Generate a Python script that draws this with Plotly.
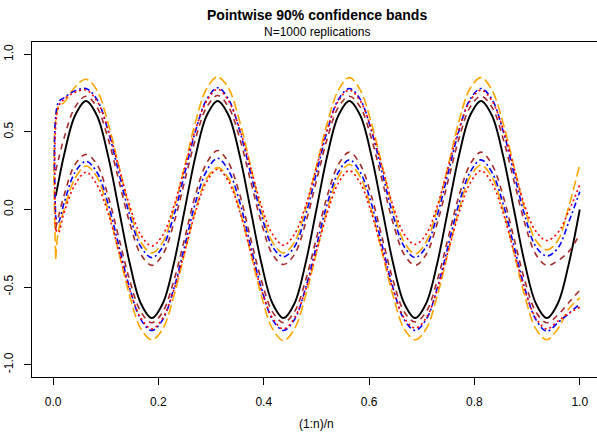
import plotly.graph_objects as go

# evaluation grid (1:n)/n
x = [0.005, 0.01,
     0.0208, 0.0417, 0.0625, 0.0833, 0.1042, 0.125, 0.1458, 0.1667, 0.1875, 0.2083, 0.2292, 0.25,
     0.2708, 0.2917, 0.3125, 0.3333, 0.3542, 0.375, 0.3958, 0.4167, 0.4375, 0.4583, 0.4792, 0.5,
     0.5208, 0.5417, 0.5625, 0.5833, 0.6042, 0.625, 0.6458, 0.6667, 0.6875, 0.7083, 0.7292, 0.75,
     0.7708, 0.7917, 0.8125, 0.8333, 0.8542, 0.875, 0.8958, 0.9167, 0.9375, 0.9583, 0.9792, 1.0]

true_curve = [0.088, 0.174,
    0.35, 0.606, 0.70, 0.606, 0.35, 0.0, -0.35, -0.606, -0.70, -0.606, -0.35, 0.0,
    0.35, 0.606, 0.70, 0.606, 0.35, 0.0, -0.35, -0.606, -0.70, -0.606, -0.35, 0.0,
    0.35, 0.606, 0.70, 0.606, 0.35, 0.0, -0.35, -0.606, -0.70, -0.606, -0.35, 0.0,
    0.35, 0.606, 0.70, 0.606, 0.35, 0.0, -0.35, -0.606, -0.70, -0.606, -0.35, 0.0]

orange_upper = [-0.30, 0.66,
    0.69, 0.79, 0.84, 0.77, 0.56, 0.28, 0.00, -0.21, -0.28, -0.21, 0.00, 0.28,
    0.57, 0.78, 0.855, 0.78, 0.57, 0.28, -0.01, -0.21, -0.28, -0.21, 0.00, 0.28,
    0.56, 0.77, 0.85, 0.77, 0.56, 0.28, 0.00, -0.21, -0.285, -0.21, 0.00, 0.28,
    0.57, 0.78, 0.85, 0.77, 0.56, 0.28, 0.00, -0.20, -0.26, -0.20, 0.02, 0.29]
orange_lower = [-0.32, -0.14,
    0.00, 0.20, 0.28, 0.21, 0.00, -0.28, -0.56, -0.77, -0.84, -0.77, -0.56, -0.28,
    0.00, 0.20, 0.27, 0.20, 0.00, -0.28, -0.56, -0.77, -0.845, -0.77, -0.56, -0.28,
    0.00, 0.21, 0.29, 0.21, 0.00, -0.28, -0.56, -0.77, -0.84, -0.77, -0.56, -0.28,
    0.00, 0.21, 0.285, 0.21, 0.00, -0.28, -0.56, -0.77, -0.84, -0.77, -0.64, -0.57]

blue_upper = [-0.05, 0.69,
    0.72, 0.765, 0.78, 0.71, 0.51, 0.235, -0.04, -0.24, -0.31, -0.24, -0.04, 0.235,
    0.51, 0.71, 0.785, 0.71, 0.51, 0.235, -0.04, -0.24, -0.305, -0.24, -0.04, 0.235,
    0.51, 0.71, 0.78, 0.71, 0.51, 0.235, -0.04, -0.24, -0.31, -0.24, -0.04, 0.235,
    0.51, 0.71, 0.78, 0.71, 0.51, 0.235, -0.04, -0.24, -0.30, -0.25, -0.08, 0.115]
blue_lower = [-0.05, -0.08,
    0.04, 0.24, 0.31, 0.24, 0.04, -0.235, -0.51, -0.71, -0.78, -0.71, -0.51, -0.235,
    0.05, 0.25, 0.33, 0.25, 0.05, -0.235, -0.51, -0.71, -0.78, -0.71, -0.51, -0.235,
    0.04, 0.24, 0.32, 0.24, 0.04, -0.235, -0.51, -0.71, -0.78, -0.71, -0.51, -0.235,
    0.04, 0.24, 0.32, 0.24, 0.04, -0.235, -0.51, -0.71, -0.785, -0.73, -0.67, -0.61]

red_upper = [-0.13, 0.66,
    0.71, 0.755, 0.77, 0.70, 0.52, 0.27, 0.02, -0.165, -0.235, -0.165, 0.02, 0.27,
    0.52, 0.70, 0.775, 0.70, 0.52, 0.27, 0.02, -0.16, -0.23, -0.16, 0.02, 0.27,
    0.52, 0.70, 0.77, 0.70, 0.52, 0.27, 0.02, -0.16, -0.225, -0.16, 0.02, 0.27,
    0.52, 0.70, 0.77, 0.70, 0.52, 0.27, 0.02, -0.14, -0.20, -0.15, -0.01, 0.16]
red_lower = [-0.13, -0.15,
    -0.02, 0.16, 0.24, 0.16, -0.02, -0.27, -0.52, -0.70, -0.77, -0.70, -0.52, -0.27,
    -0.01, 0.18, 0.26, 0.18, -0.01, -0.27, -0.52, -0.70, -0.77, -0.70, -0.52, -0.27,
    -0.02, 0.17, 0.25, 0.17, -0.02, -0.27, -0.52, -0.70, -0.765, -0.70, -0.52, -0.27,
    -0.02, 0.17, 0.25, 0.17, -0.02, -0.27, -0.52, -0.70, -0.77, -0.72, -0.67, -0.63]

brown_upper = [0.25, 0.32,
    0.46, 0.66, 0.73, 0.66, 0.46, 0.185, -0.09, -0.29, -0.36, -0.29, -0.09, 0.185,
    0.46, 0.66, 0.735, 0.66, 0.46, 0.185, -0.09, -0.29, -0.355, -0.29, -0.09, 0.185,
    0.46, 0.66, 0.73, 0.66, 0.46, 0.185, -0.09, -0.29, -0.36, -0.29, -0.09, 0.185,
    0.46, 0.66, 0.73, 0.66, 0.46, 0.185, -0.09, -0.29, -0.36, -0.33, -0.27, -0.16]
brown_lower = [-0.12, -0.05,
    0.09, 0.29, 0.355, 0.29, 0.09, -0.185, -0.46, -0.66, -0.73, -0.66, -0.46, -0.185,
    0.10, 0.30, 0.38, 0.30, 0.10, -0.185, -0.46, -0.66, -0.73, -0.66, -0.46, -0.185,
    0.09, 0.29, 0.37, 0.29, 0.09, -0.185, -0.46, -0.66, -0.725, -0.66, -0.46, -0.185,
    0.09, 0.29, 0.37, 0.29, 0.09, -0.185, -0.46, -0.66, -0.73, -0.68, -0.60, -0.52]

x_ticks = [0.0, 0.2, 0.4, 0.6, 0.8, 1.0]
x_tick_labels = ["0.0", "0.2", "0.4", "0.6", "0.8", "1.0"]
y_ticks = [-1.0, -0.5, 0.0, 0.5, 1.0]
y_tick_labels = ["-1.0", "-0.5", "0.0", "0.5", "1.0"]

FONT = "Liberation Sans, Arial, Helvetica, sans-serif"

fig = go.Figure()

def add(y, color, dash, width=1.6):
    fig.add_trace(go.Scatter(x=x, y=y, mode="lines", showlegend=False, hoverinfo="skip",
                             line=dict(color=color, width=width, dash=dash,
                                       shape="spline", smoothing=1.0)))

add(true_curve, "black", "solid", 1.9)
add(orange_upper, "#FFA500", "10px,4px")
add(orange_lower, "#FFA500", "10px,4px")
add(brown_upper, "#A52A2A", "6px,5px")
add(brown_lower, "#A52A2A", "6px,5px")
add(blue_upper, "#0000FF", "2px,3px,6px,3px")
add(blue_lower, "#0000FF", "2px,3px,6px,3px")
add(red_upper, "#FF0000", "2px,3px")
add(red_lower, "#FF0000", "2px,3px")

L, T, B = 32, 42, 55
W, H = 597, 432
plot_w = W - L
plot_h = H - T - B

fig.update_layout(
    width=W, height=H,
    margin=dict(l=L, r=0, t=T, b=B, pad=0),
    paper_bgcolor="white", plot_bgcolor="white",
    font=dict(family=FONT, size=12, color="black"),
    showlegend=False,
    xaxis=dict(range=[-0.04, -0.04 + plot_w / 526.7], tickvals=x_ticks, ticktext=x_tick_labels,
               ticks="outside", ticklen=7, tickwidth=1, tickcolor="black",
               showline=True, linecolor="black", linewidth=1, mirror=True,
               showgrid=False, zeroline=False, ticklabelstandoff=7,
               tickfont=dict(family=FONT, size=12, color="black")),
    yaxis=dict(range=[-1.08, 1.08], tickvals=y_ticks, ticktext=y_tick_labels,
               ticks="outside", ticklen=7, tickwidth=1, tickcolor="black",
               showline=True, linecolor="black", linewidth=1, mirror=False,
               showgrid=False, zeroline=False, tickangle=-90, ticklabelstandoff=6,
               tickfont=dict(family=FONT, size=12, color="black")),
)

cx = (316.6 - L) / plot_w
def py(p):
    return (H - B - p) / plot_h

fig.add_annotation(text="<b>Pointwise 90% confidence bands</b>", xref="paper", yref="paper",
                   x=cx, y=py(15), xanchor="center", yanchor="middle", showarrow=False,
                   font=dict(family=FONT, size=14, color="black"))
fig.add_annotation(text="N=1000 replications", xref="paper", yref="paper",
                   x=cx, y=py(32), xanchor="center", yanchor="middle", showarrow=False,
                   font=dict(family=FONT, size=12, color="black"))
fig.add_annotation(text="(1:n)/n", xref="paper", yref="paper",
                   x=cx, y=py(424), xanchor="center", yanchor="middle", showarrow=False,
                   font=dict(family=FONT, size=12, color="black"))

fig.write_html("out.html")
